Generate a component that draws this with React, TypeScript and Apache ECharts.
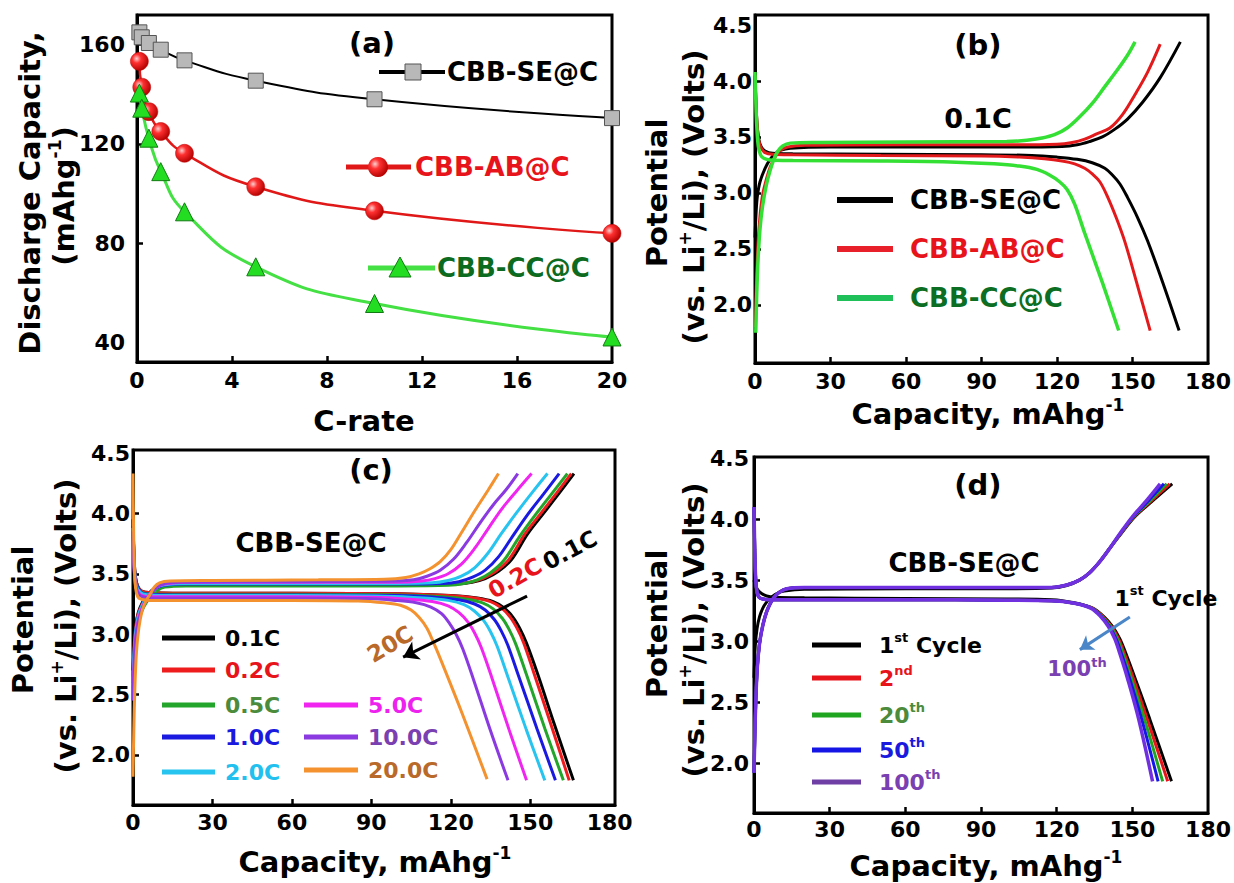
import React, { useEffect, useRef } from 'react';
import * as echarts from 'echarts';

const FONT = '"DejaVu Sans", "Liberation Sans", Arial, sans-serif';

// ---------- Panel (a): rate capability ----------
const C_RATES = [0.1, 0.2, 0.5, 1, 2, 5, 10, 20];
const SE_CAPACITY = [165, 163, 160.7, 158, 153.7, 145.5, 138, 130.4];
const AB_CAPACITY = [153.3, 142.9, 133, 125, 116.2, 102.7, 93, 83.9];
const CC_CAPACITY = [140.5, 134.4, 122.3, 108.8, 92.6, 70.4, 55.6, 42.1];
const A_X_TICKS = [0, 4, 8, 12, 16, 20];
const A_Y_TICKS = [40, 80, 120, 160];
const V_TICKS = [2.0, 2.5, 3.0, 3.5, 4.0, 4.5];
const CAP_TICKS = [0, 30, 60, 90, 120, 150, 180];

// ---------- Panel (b): 0.1C charge / discharge ----------
const B_SE_CHG = [[0,2.6],[0.5,2.85],[1,2.98],[2,3.1],[4,3.22],[6,3.3],[8,3.35],[10,3.38],[14,3.4],[30,3.41],[60,3.41],[100,3.41],[122,3.415],[128,3.43],[133,3.46],[138,3.5],[143,3.57],[148,3.66],[154,3.81],[161,4.03],[169,4.35]];
const B_AB_CHG = [[0.2,1.8],[0.6,2.2],[1.2,2.55],[2,2.8],[3,2.98],[4.5,3.12],[6,3.23],[8,3.32],[10,3.38],[13,3.41],[20,3.425],[60,3.43],[100,3.43],[120,3.435],[126,3.45],[131,3.48],[136,3.53],[141,3.58],[146,3.7],[151,3.88],[156,4.08],[161,4.33]];
const B_CC_CHG = [[0.3,1.75],[0.7,2.1],[1.2,2.4],[2,2.68],[3,2.88],[4.5,3.07],[6,3.2],[7.5,3.3],[9,3.37],[11,3.42],[14,3.445],[25,3.45],[60,3.455],[100,3.46],[108,3.47],[114,3.49],[119,3.52],[124,3.58],[129,3.68],[134,3.8],[139,3.95],[144,4.1],[148,4.23],[151,4.35]];
const B_SE_DIS = [[0,4.05],[0.4,3.8],[0.8,3.62],[1.5,3.48],[2.5,3.41],[4,3.375],[7,3.355],[15,3.35],[50,3.345],[90,3.34],[110,3.335],[120,3.32],[128,3.3],[134,3.27],[139,3.22],[142,3.16],[145,3.08],[148,2.96],[152,2.78],[156,2.57],[162,2.2],[168.5,1.77]];
const B_AB_DIS = [[0,4.05],[0.4,3.8],[0.8,3.62],[1.5,3.47],[2.5,3.4],[4,3.36],[7,3.345],[15,3.34],[50,3.335],[90,3.33],[105,3.32],[115,3.305],[122,3.285],[127,3.26],[131,3.22],[134,3.17],[137,3.1],[140,2.97],[143.5,2.78],[147,2.56],[152,2.17],[157,1.77]];
const B_CC_DIS = [[0,4.08],[0.3,3.85],[0.7,3.6],[1.3,3.42],[2.2,3.34],[3.5,3.31],[6,3.295],[15,3.29],[50,3.285],[80,3.275],[95,3.26],[105,3.24],[112,3.21],[117,3.16],[121,3.1],[124,3.03],[127,2.9],[131,2.64],[138,2.2],[144.5,1.77]];

// ---------- Panel (c): CBB-SE@C at different rates ----------
const C_01_CHG = [[0,2.7],[0.5,2.95],[1,3.07],[2,3.18],[3.5,3.26],[5,3.31],[7,3.36],[9,3.39],[12,3.405],[20,3.41],[60,3.41],[100,3.41],[122,3.415],[128,3.43],[133,3.46],[138,3.52],[143,3.62],[149,3.83],[155,4.0],[161,4.17],[166.5,4.33]];
const C_02_CHG = [[0,2.65],[0.5,2.92],[1,3.05],[2,3.17],[3.5,3.25],[5,3.31],[7,3.355],[9,3.385],[12,3.405],[20,3.41],[60,3.41],[100,3.41],[121,3.415],[127,3.43],[132,3.46],[137,3.52],[142,3.62],[148,3.83],[154,4.0],[160,4.17],[165.5,4.33]];
const C_05_CHG = [[0,2.55],[0.5,2.85],[1.2,3.0],[2.2,3.12],[3.5,3.2],[5,3.26],[7,3.32],[9,3.36],[12,3.39],[20,3.4],[60,3.4],[100,3.4],[119,3.405],[125,3.42],[130,3.45],[135,3.51],[140,3.61],[146,3.81],[152,3.99],[158,4.16],[164,4.33]];
const C_1_CHG = [[0,2.6],[0.5,2.88],[1,3.02],[2,3.15],[3.5,3.24],[5,3.3],[7,3.35],[9,3.385],[12,3.405],[20,3.415],[60,3.415],[100,3.415],[117,3.42],[123,3.435],[128,3.47],[133,3.53],[138,3.64],[143,3.8],[149,3.99],[155,4.16],[160.9,4.33]];
const C_2_CHG = [[0,2.6],[0.5,2.88],[1,3.02],[2,3.15],[3.5,3.24],[5,3.3],[7,3.35],[9,3.39],[12,3.41],[20,3.42],[60,3.42],[100,3.42],[113,3.425],[119,3.445],[124,3.48],[129,3.55],[134,3.67],[139,3.83],[145,4.01],[151,4.18],[156.5,4.33]];
const C_5_CHG = [[0,2.5],[0.5,2.8],[1,2.97],[2,3.12],[3.5,3.22],[5,3.29],[7,3.35],[9,3.39],[12,3.415],[20,3.43],[60,3.43],[100,3.43],[109,3.44],[114,3.46],[119,3.5],[124,3.58],[129,3.71],[134,3.87],[139,4.03],[145,4.19],[150.5,4.33]];
const C_10_CHG = [[0,2.45],[0.5,2.77],[1,2.95],[2,3.1],[3.5,3.21],[5,3.28],[7,3.34],[9,3.39],[12,3.42],[20,3.43],[60,3.435],[100,3.44],[106,3.45],[111,3.48],[116,3.53],[121,3.62],[126,3.76],[131,3.92],[136,4.07],[141,4.2],[145.3,4.33]];
const C_20_CHG = [[0,1.82],[0.3,2.2],[0.7,2.55],[1.3,2.85],[2.2,3.05],[3.5,3.2],[5,3.28],[6.5,3.33],[8,3.39],[10,3.425],[14,3.44],[30,3.445],[70,3.45],[95,3.455],[103,3.47],[108,3.5],[112,3.54],[116,3.6],[120,3.7],[124,3.84],[129,4.02],[134,4.19],[138,4.33]];

const C_01_DIS = [[0,3.95],[0.3,3.7],[0.7,3.52],[1.3,3.43],[2.2,3.38],[3.5,3.355],[6,3.345],[15,3.34],[60,3.34],[100,3.335],[120,3.32],[130,3.3],[136,3.27],[140,3.22],[143.5,3.14],[146,3.05],[148.5,2.93],[152.8,2.67],[159,2.26],[166.3,1.79]];
const C_02_DIS = [[0,3.95],[0.3,3.7],[0.7,3.52],[1.3,3.43],[2.2,3.38],[3.5,3.355],[6,3.345],[15,3.34],[60,3.34],[100,3.335],[119,3.32],[129,3.3],[135,3.27],[139,3.22],[142.5,3.14],[145,3.05],[147.5,2.93],[151.5,2.67],[158,2.24],[164.7,1.79]];
const C_05_DIS = [[0,3.9],[0.3,3.68],[0.7,3.5],[1.3,3.42],[2.2,3.37],[3.5,3.345],[6,3.335],[15,3.33],[60,3.33],[100,3.325],[117,3.31],[126,3.29],[132,3.26],[136,3.21],[139.5,3.13],[142,3.04],[144.5,2.92],[148.5,2.67],[155.5,2.22],[162.5,1.79]];
const C_1_DIS = [[0,3.9],[0.3,3.68],[0.7,3.5],[1.3,3.42],[2.2,3.37],[3.5,3.34],[6,3.33],[15,3.325],[60,3.325],[100,3.32],[114,3.305],[123,3.285],[129,3.25],[133,3.2],[136.5,3.12],[139,3.03],[141.5,2.91],[145.5,2.66],[152.5,2.22],[159.5,1.79]];
const C_2_DIS = [[0,3.88],[0.3,3.66],[0.7,3.48],[1.3,3.4],[2.2,3.36],[3.5,3.335],[6,3.325],[15,3.32],[60,3.32],[95,3.315],[110,3.3],[119,3.28],[125,3.245],[129,3.19],[132.5,3.11],[135,3.02],[137.5,2.9],[141.5,2.65],[148.5,2.21],[155.5,1.79]];
const C_5_DIS = [[0,3.85],[0.3,3.63],[0.7,3.46],[1.3,3.38],[2.2,3.34],[3.5,3.32],[6,3.31],[15,3.31],[60,3.31],[90,3.305],[104,3.29],[113,3.27],[119,3.235],[123,3.18],[126.5,3.1],[129,3.01],[131.5,2.89],[135.5,2.64],[142,2.21],[148.6,1.79]];
const C_10_DIS = [[0,3.85],[0.3,3.62],[0.7,3.45],[1.3,3.37],[2.2,3.33],[3.5,3.31],[6,3.3],[15,3.3],[60,3.3],[88,3.295],[99,3.28],[107,3.26],[112.5,3.225],[116.5,3.17],[119.5,3.09],[122,3.0],[124.5,2.88],[128.5,2.63],[135,2.2],[141.6,1.79]];
const C_20_DIS = [[0,4.33],[0.2,3.9],[0.5,3.55],[1,3.38],[1.8,3.31],[3,3.29],[6,3.28],[20,3.28],[60,3.28],[85,3.275],[95,3.26],[101,3.24],[105,3.2],[108,3.14],[111,3.05],[113.5,2.93],[116,2.8],[124,2.36],[133.7,1.8]];

const C_RATE_NAMES = ['0.1C', '0.2C', '0.5C', '1.0C', '2.0C', '5.0C', '10.0C', '20.0C'];

// ---------- Panel (d): cycling ----------
const D_1_CHG = [[0,2.7],[0.5,2.96],[1.2,3.1],[2.2,3.2],[3.5,3.27],[5,3.32],[7,3.36],[9,3.39],[12,3.41],[20,3.425],[60,3.43],[100,3.43],[118,3.435],[124,3.455],[129,3.5],[133,3.56],[137,3.65],[141,3.76],[145.5,3.88],[151,4.02],[158,4.15],[165.8,4.29]];
const D_2_CHG = [[0,1.92],[0.3,2.2],[0.7,2.5],[1.3,2.78],[2.2,2.98],[3.5,3.13],[5,3.24],[6.5,3.31],[8,3.36],[10,3.4],[13,3.43],[20,3.44],[60,3.44],[100,3.44],[118,3.44],[124,3.46],[129,3.5],[133,3.56],[137,3.65],[141,3.76],[145.3,3.88],[150.7,4.02],[157.5,4.15],[164.8,4.29]];
const D_20_CHG = [[0,1.92],[0.3,2.2],[0.7,2.5],[1.3,2.78],[2.2,2.98],[3.5,3.13],[5,3.24],[6.5,3.31],[8,3.36],[10,3.4],[13,3.43],[20,3.44],[60,3.44],[100,3.44],[118,3.44],[124,3.46],[129,3.5],[133,3.56],[137,3.65],[141,3.76],[145.2,3.88],[150.5,4.02],[157,4.15],[163.6,4.29]];
const D_50_CHG = [[0,1.92],[0.3,2.2],[0.7,2.5],[1.3,2.78],[2.2,2.98],[3.5,3.13],[5,3.24],[6.5,3.31],[8,3.36],[10,3.4],[13,3.43],[20,3.44],[60,3.44],[100,3.44],[118,3.44],[124,3.46],[129,3.5],[133,3.56],[137,3.65],[141,3.76],[145.1,3.88],[150.3,4.02],[156.3,4.15],[162.5,4.29]];
const D_100_CHG = [[0,1.92],[0.3,2.2],[0.7,2.5],[1.3,2.78],[2.2,2.98],[3.5,3.13],[5,3.24],[6.5,3.31],[8,3.36],[10,3.4],[13,3.43],[20,3.44],[60,3.44],[100,3.44],[118,3.44],[124,3.46],[129,3.5],[133,3.56],[137,3.65],[141,3.76],[145,3.88],[150,4.02],[155.5,4.15],[161,4.29]];

const D_1_DIS = [[0,3.5],[0.5,3.46],[1.5,3.42],[3,3.39],[5,3.37],[8,3.36],[20,3.355],[60,3.35],[100,3.345],[118,3.34],[127,3.315],[134.3,3.27],[138.7,3.2],[142.1,3.12],[145,3.02],[147.4,2.9],[151,2.7],[156.9,2.36],[165.5,1.85]];
const D_2_DIS = [[0,4.1],[0.3,3.75],[0.7,3.5],[1.2,3.4],[2,3.36],[3.5,3.345],[6,3.34],[20,3.34],[60,3.34],[100,3.335],[118,3.33],[127,3.31],[134.1,3.27],[138.4,3.2],[141.7,3.12],[144.5,3.02],[146.8,2.9],[150.3,2.7],[155.9,2.36],[164,1.85]];
const D_20_DIS = [[0,4.1],[0.3,3.75],[0.7,3.5],[1.2,3.4],[2,3.36],[3.5,3.345],[6,3.34],[20,3.34],[60,3.34],[100,3.335],[118,3.33],[127,3.31],[133.9,3.27],[138.1,3.2],[141.3,3.12],[144,3.02],[146.2,2.9],[149.5,2.7],[154.8,2.36],[162,1.85]];
const D_50_DIS = [[0,4.1],[0.3,3.75],[0.7,3.5],[1.2,3.4],[2,3.36],[3.5,3.345],[6,3.34],[20,3.34],[60,3.34],[100,3.335],[118,3.33],[127,3.31],[133.7,3.27],[137.8,3.2],[140.9,3.12],[143.5,3.02],[145.6,2.9],[148.8,2.7],[153.7,2.36],[160.2,1.85]];
const D_100_DIS = [[0,4.1],[0.3,3.75],[0.7,3.5],[1.2,3.4],[2,3.36],[3.5,3.345],[6,3.34],[20,3.34],[60,3.34],[100,3.335],[118,3.33],[127,3.31],[133.5,3.27],[137.5,3.2],[140.5,3.12],[143,3.02],[145,2.9],[148,2.7],[152.5,2.36],[158,1.85]];

// ---------- styling ----------
const C_LINE_COLORS = ['#000000', '#ee1c1c', '#22a52a', '#1a1ae0', '#27c4f0', '#f026f0', '#8a3ae0', '#f3922e'];
const C_TEXT_COLORS = ['#000000', '#e8141b', '#4b8b3b', '#1a1adf', '#22c0ee', '#ee22ee', '#7a3fb0', '#b9692a'];
const D_LINE_COLORS = ['#000000', '#e8141b', '#1fa51f', '#1515e5', '#7030e0'];
const D_LEG_COLORS = ['#000000', '#e8141b', '#1fa51f', '#1515e5', '#6f3fa5'];
const D_TEXT_COLORS = ['#000000', '#e8141b', '#4b8b3b', '#1a1adf', '#7a3fb0'];

const f = (size: number) => `bold ${size}px ${FONT}`;

function txt(text: string, x: number, y: number, size: number, color = '#000', rotation = 0, align = 'center') {
  return {
    type: 'text', x, y, rotation, silent: true,
    style: { text, fill: color, font: f(size), textAlign: align, textVerticalAlign: 'middle' },
  };
}

function rtxt(text: string, x: number, y: number, size: number, color = '#000', rotation = 0, align = 'center') {
  return {
    type: 'text', x, y, rotation, silent: true,
    style: {
      text, fill: color, font: f(size), textAlign: align, textVerticalAlign: 'middle',
      rich: {
        n: { font: f(size), fill: color, lineHeight: Math.round(size * 1.25) },
        s: { font: f(Math.round(size * 0.6)), fill: color, verticalAlign: 'top', lineHeight: Math.round(size * 0.75) },
      },
    },
  };
}

function hline(x1: number, x2: number, y: number, color: string, width: number) {
  return { type: 'line', silent: true, shape: { x1, y1: y, x2, y2: y }, style: { stroke: color, lineWidth: width } };
}

function curve(gi: number, data: number[][], color: string, width: number, extra: any = {}) {
  return {
    type: 'line', xAxisIndex: gi, yAxisIndex: gi, data, showSymbol: false, symbol: 'none',
    smooth: 0.35, lineStyle: { color, width }, silent: true, ...extra,
  };
}

function xAxis(gi: number, min: number, max: number, labels: number[], ticks: number[], margin: number) {
  return {
    type: 'value', gridIndex: gi, min, max,
    axisLine: { show: true, onZero: false, lineStyle: { color: '#000', width: 3 } },
    axisTick: { show: true, inside: true, length: 6, customValues: ticks, lineStyle: { color: '#000', width: 2.5 } },
    axisLabel: { customValues: labels, margin, color: '#000', fontSize: 22, fontWeight: 'bold', fontFamily: FONT },
    splitLine: { show: false },
  };
}

function yAxis(gi: number, min: number, max: number, labels: number[], ticks: number[], margin: number, dec: boolean) {
  return {
    type: 'value', gridIndex: gi, min, max,
    axisLine: { show: true, onZero: false, lineStyle: { color: '#000', width: 3 } },
    axisTick: { show: true, inside: true, length: 6, customValues: ticks, lineStyle: { color: '#000', width: 2.5 } },
    axisLabel: {
      customValues: labels, margin, color: '#000', fontSize: 22, fontWeight: 'bold', fontFamily: FONT,
      formatter: (v: number) => (dec ? v.toFixed(1) : String(v)),
    },
    splitLine: { show: false },
  };
}

export default function App() {
  const ref = useRef<HTMLDivElement>(null);

  useEffect(() => {
    if (!ref.current) return;
    const chart = echarts.init(ref.current, undefined, { renderer: 'svg' });

    const pairs = (ys: number[]) => C_RATES.map((x, i) => [x, ys[i]]);
    const redBall = new echarts.graphic.RadialGradient(0.35, 0.35, 0.7, [
      { offset: 0, color: '#ffd0d0' }, { offset: 0.35, color: '#ff3030' }, { offset: 1, color: '#b00000' },
    ]);

    const C_CHG = [C_01_CHG, C_02_CHG, C_05_CHG, C_1_CHG, C_2_CHG, C_5_CHG, C_10_CHG, C_20_CHG];
    const C_DIS = [C_01_DIS, C_02_DIS, C_05_DIS, C_1_DIS, C_2_DIS, C_5_DIS, C_10_DIS, C_20_DIS];
    const D_CHG = [D_1_CHG, D_2_CHG, D_20_CHG, D_50_CHG, D_100_CHG];
    const D_DIS = [D_1_DIS, D_2_DIS, D_20_DIS, D_50_DIS, D_100_DIS];

    const series: any[] = [
      {
        type: 'line', xAxisIndex: 0, yAxisIndex: 0, data: pairs(SE_CAPACITY), smooth: 0.5,
        symbol: 'rect', symbolSize: 15, lineStyle: { color: '#000', width: 2 },
        itemStyle: { color: '#b8b8b8', borderColor: '#555', borderWidth: 1 }, silent: true,
      },
      {
        type: 'line', xAxisIndex: 0, yAxisIndex: 0, data: pairs(AB_CAPACITY), smooth: 0.5,
        symbol: 'circle', symbolSize: 18, lineStyle: { color: '#e01818', width: 2.5 },
        itemStyle: { color: redBall, borderColor: '#c00000', borderWidth: 0.5 }, silent: true,
      },
      {
        type: 'line', xAxisIndex: 0, yAxisIndex: 0, data: pairs(CC_CAPACITY), smooth: 0.5,
        symbol: 'triangle', symbolSize: 18, lineStyle: { color: '#44e044', width: 3 },
        itemStyle: { color: '#22dd22', borderColor: '#127a12', borderWidth: 1 }, silent: true,
      },
      curve(1, B_SE_CHG, '#000000', 3), curve(1, B_SE_DIS, '#000000', 3),
      curve(1, B_AB_CHG, '#e31a1c', 3), curve(1, B_AB_DIS, '#e31a1c', 3),
      curve(1, B_CC_CHG, '#33e033', 3.5), curve(1, B_CC_DIS, '#33e033', 3.5),
    ];
    C_CHG.forEach((d, i) => {
      series.push(curve(2, d, C_LINE_COLORS[i], 3));
      series.push(curve(2, C_DIS[i], C_LINE_COLORS[i], 3));
    });
    D_CHG.forEach((d, i) => {
      series.push(curve(3, d, D_LINE_COLORS[i], i === 4 ? 3.5 : 3));
      series.push(curve(3, D_DIS[i], D_LINE_COLORS[i], i === 4 ? 3.5 : 3));
    });
    // annotation arrows (data coordinates)
    series.push({
      type: 'line', xAxisIndex: 2, yAxisIndex: 2, data: [], silent: true,
      markLine: {
        silent: true, symbol: ['none', 'arrow'], symbolSize: 15, label: { show: false },
        lineStyle: { color: '#000', width: 3, type: 'solid' },
        data: [[{ coord: [148.8, 3.316] }, { coord: [102, 2.81] }]],
      },
    });
    series.push({
      type: 'line', xAxisIndex: 3, yAxisIndex: 3, data: [], silent: true,
      markLine: {
        silent: true, symbol: ['none', 'arrow'], symbolSize: 13, label: { show: false },
        lineStyle: { color: '#4a86c8', width: 3, type: 'solid' },
        data: [[{ coord: [149, 3.197] }, { coord: [129.2, 2.93] }]],
      },
    });

    const graphics: any[] = [
      // panel labels
      txt('(a)', 372, 43, 29), txt('(b)', 978, 45, 29), txt('(c)', 371, 470, 29), txt('(d)', 978, 485, 29),
      // axis titles
      txt('C-rate', 364, 421, 29),
      rtxt('{n|Capacity, mAhg}{s|-1}', 988, 414, 29),
      rtxt('{n|Capacity, mAhg}{s|-1}', 375, 862, 29),
      rtxt('{n|Capacity, mAhg}{s|-1}', 986, 866, 29),
      txt('Discharge Capacity,', 30, 193, 29, '#000', Math.PI / 2),
      rtxt('{n|(mAhg}{s|-1}{n|)}', 64, 196, 29, '#000', Math.PI / 2),
      txt('Potential', 657, 193, 29, '#000', Math.PI / 2),
      rtxt('{n|(vs. Li}{s|+}{n|/Li), (Volts)}', 694, 197, 29, '#000', Math.PI / 2),
      txt('Potential', 23, 620, 29, '#000', Math.PI / 2),
      rtxt('{n|(vs. Li}{s|+}{n|/Li), (Volts)}', 66, 626, 29, '#000', Math.PI / 2),
      txt('Potential', 657, 624, 29, '#000', Math.PI / 2),
      rtxt('{n|(vs. Li}{s|+}{n|/Li), (Volts)}', 694, 630, 29, '#000', Math.PI / 2),

      // (a) legend
      hline(379, 445, 72, '#000', 4),
      { type: 'rect', silent: true, shape: { x: 405, y: 64, width: 16, height: 16 }, style: { fill: '#b8b8b8', stroke: '#555', lineWidth: 1 } },
      txt('CBB-SE@C', 447, 72, 26, '#000', 0, 'left'),
      hline(346, 411, 167, '#e01818', 5),
      { type: 'circle', silent: true, shape: { cx: 378, cy: 167, r: 10 }, style: { fill: redBall } },
      txt('CBB-AB@C', 415, 167, 26, '#e8141b', 0, 'left'),
      hline(368, 435, 268, '#44e044', 5),
      { type: 'polygon', silent: true, shape: { points: [[400, 257], [389, 277], [411, 277]] }, style: { fill: '#22dd22', stroke: '#127a12', lineWidth: 1 } },
      txt('CBB-CC@C', 437, 268, 26, '#0c6b1f', 0, 'left'),

      // (b) annotations & legend
      txt('0.1C', 978, 118, 27),
      hline(837, 893, 200, '#000', 6), txt('CBB-SE@C', 910, 200, 26, '#000', 0, 'left'),
      hline(837, 893, 249, '#e8202a', 6), txt('CBB-AB@C', 910, 249, 26, '#e8141b', 0, 'left'),
      hline(837, 893, 298, '#1fbf5a', 6), txt('CBB-CC@C', 910, 298, 26, '#0b6e22', 0, 'left'),

      // (c)
      txt('CBB-SE@C', 311, 543, 26),
      txt('0.2C', 515, 578, 23, '#e8141b', 0.52),
      txt('0.1C', 570, 550, 23, '#000', 0.49),
      txt('20C', 390, 644, 23, '#b9692a', 0.54),

      // (d)
      txt('CBB-SE@C', 964, 563, 26),
      rtxt('{n|1}{s|st}{n| Cycle}', 1166, 598, 22),
      rtxt('{n|100}{s|th}', 1077, 669, 21, '#7a3fb0'),
    ];

    // (c) legend
    const cRowsLeft = [638, 670, 705, 737, 772];
    const cRowsRight = [705, 737, 770];
    C_RATE_NAMES.forEach((name, i) => {
      const left = i < 5;
      const y = left ? cRowsLeft[i] : cRowsRight[i - 5];
      const x1 = left ? 162 : 304;
      const x2 = left ? 215 : 358;
      const tx = left ? 225 : 368;
      graphics.push(hline(x1, x2, y, C_LINE_COLORS[i], 5));
      graphics.push(txt(name, tx, y, 22, C_TEXT_COLORS[i], 0, 'left'));
    });

    // (d) legend
    const dRows = [645, 678, 715, 750, 782];
    const dNames = ['{n|1}{s|st}{n| Cycle}', '{n|2}{s|nd}', '{n|20}{s|th}', '{n|50}{s|th}', '{n|100}{s|th}'];
    dNames.forEach((name, i) => {
      graphics.push(hline(812, 861, dRows[i], D_LEG_COLORS[i], 5));
      graphics.push(rtxt(name, 879, dRows[i], 22, D_TEXT_COLORS[i], 0, 'left'));
    });

    const gridStyle = { show: true, borderColor: '#000', borderWidth: 3, backgroundColor: 'transparent' };

    chart.setOption({
      animation: false,
      backgroundColor: '#ffffff',
      grid: [
        { left: 137, top: 15, width: 475, height: 347, ...gridStyle },
        { left: 755, top: 15, width: 465, height: 348, ...gridStyle },
        { left: 133, top: 450, width: 482, height: 355, ...gridStyle },
        { left: 754, top: 457, width: 471, height: 356, ...gridStyle },
      ],
      xAxis: [
        xAxis(0, 0, 20, A_X_TICKS, [4, 8, 12, 16], 7),
        xAxis(1, 0, 180, CAP_TICKS, [30, 60, 90, 120, 150], 7),
        xAxis(2, 0, 182, CAP_TICKS, [30, 60, 90, 120, 150], 6),
        xAxis(3, 0, 180, CAP_TICKS, [30, 60, 90, 120, 150], 5),
      ],
      yAxis: [
        yAxis(0, 32, 172, A_Y_TICKS, [80, 120, 160], 12, false),
        yAxis(1, 1.48, 4.59, V_TICKS, [2.0, 2.5, 3.0, 3.5, 4.0], 3, true),
        yAxis(2, 1.586, 4.525, V_TICKS, [2.0, 2.5, 3.0, 3.5, 4.0], 3, true),
        yAxis(3, 1.59, 4.51, V_TICKS, [2.0, 2.5, 3.0, 3.5, 4.0], 5, true),
      ],
      series,
      graphic: { elements: graphics },
    });

    return () => chart.dispose();
  }, []);

  return (
    <div
      ref={ref}
      style={{ position: 'absolute', left: 0, top: 0, width: 1234, height: 883, background: '#fff' }}
    />
  );
}
